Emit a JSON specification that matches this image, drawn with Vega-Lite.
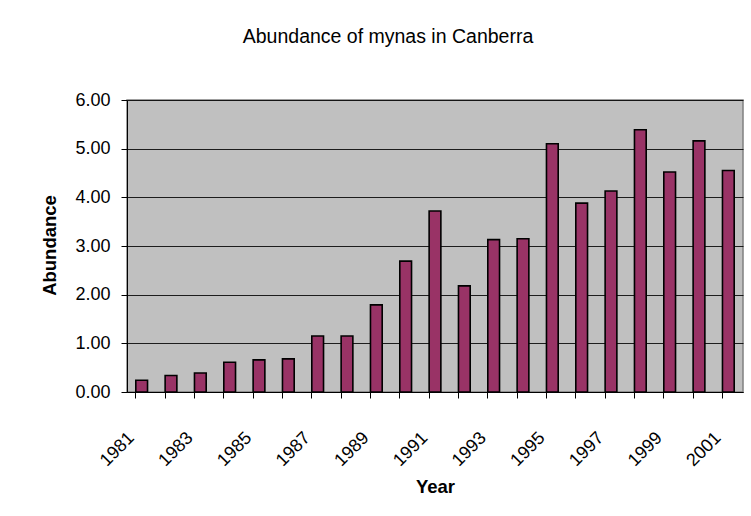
{
  "$schema": "https://vega.github.io/schema/vega-lite/v6.json",
  "autosize": "none",
  "width": 616,
  "height": 292,
  "padding": {"left": 127, "top": 100, "right": 8, "bottom": 124},
  "background": "white",
  "title": {
    "text": "Abundance of mynas in Canberra",
    "font": "Liberation Sans",
    "fontSize": 19.5,
    "fontWeight": "normal",
    "color": "black",
    "anchor": "middle",
    "dx": -47,
    "offset": 29,
    "baseline": "alphabetic"
  },
  "data": {
    "values": [
      {"Year": 1981, "Abundance": 0.24},
      {"Year": 1982, "Abundance": 0.34},
      {"Year": 1983, "Abundance": 0.39},
      {"Year": 1984, "Abundance": 0.61},
      {"Year": 1985, "Abundance": 0.66},
      {"Year": 1986, "Abundance": 0.68},
      {"Year": 1987, "Abundance": 1.15},
      {"Year": 1988, "Abundance": 1.15},
      {"Year": 1989, "Abundance": 1.79},
      {"Year": 1990, "Abundance": 2.69},
      {"Year": 1991, "Abundance": 3.72},
      {"Year": 1992, "Abundance": 2.18},
      {"Year": 1993, "Abundance": 3.13},
      {"Year": 1994, "Abundance": 3.15},
      {"Year": 1995, "Abundance": 5.10},
      {"Year": 1996, "Abundance": 3.88},
      {"Year": 1997, "Abundance": 4.13},
      {"Year": 1998, "Abundance": 5.39},
      {"Year": 1999, "Abundance": 4.52},
      {"Year": 2000, "Abundance": 5.16},
      {"Year": 2001, "Abundance": 4.55}
    ]
  },
  "mark": {"type": "bar", "fill": "#993366", "stroke": "black", "strokeWidth": 1.6},
  "encoding": {
    "x": {
      "field": "Year",
      "type": "ordinal",
      "scale": {"paddingInner": 0.6, "paddingOuter": 0.3},
      "axis": {
        "title": "Year",
        "titleFont": "Liberation Sans",
        "titleFontSize": 18.5,
        "titleFontWeight": "bold",
        "titleColor": "black",
        "titleX": 308,
        "titleY": 100,
        "titleAlign": "center",
        "titleBaseline": "alphabetic",
        "bandPosition": 0,
        "labelExpr": "(datum.value - 1981) % 2 == 0 ? datum.label : ''",
        "labelAngle": -45,
        "labelAlign": "right",
        "labelBaseline": "middle",
        "labelOffset": -10,
        "labelPadding": 37,
        "labelFont": "Liberation Sans",
        "labelFontSize": 18,
        "labelColor": "black",
        "labelOverlap": false,
        "labelBound": false,
        "labelFlush": false,
        "tickSize": 6,
        "tickColor": "black",
        "domainColor": "black",
        "grid": false
      }
    },
    "y": {
      "field": "Abundance",
      "type": "quantitative",
      "scale": {"domain": [0, 6], "nice": false},
      "axis": {
        "title": "Abundance",
        "titleFont": "Liberation Sans",
        "titleFontSize": 18.5,
        "titleFontWeight": "bold",
        "titleColor": "black",
        "titleX": -72,
        "titleY": 145,
        "titleAlign": "center",
        "titleBaseline": "alphabetic",
        "values": [0, 1, 2, 3, 4, 5, 6],
        "format": ".2f",
        "labelFont": "Liberation Sans",
        "labelFontSize": 18,
        "labelColor": "black",
        "labelPadding": 11,
        "labelFlush": false,
        "labelOverlap": false,
        "tickSize": 6,
        "tickColor": "black",
        "domainColor": "black",
        "grid": true,
        "gridColor": "black",
        "gridOpacity": 0.85,
        "gridWidth": 1
      }
    }
  },
  "config": {
    "view": {"fill": "#C0C0C0", "stroke": "#808080", "strokeWidth": 1.5}
  }
}
